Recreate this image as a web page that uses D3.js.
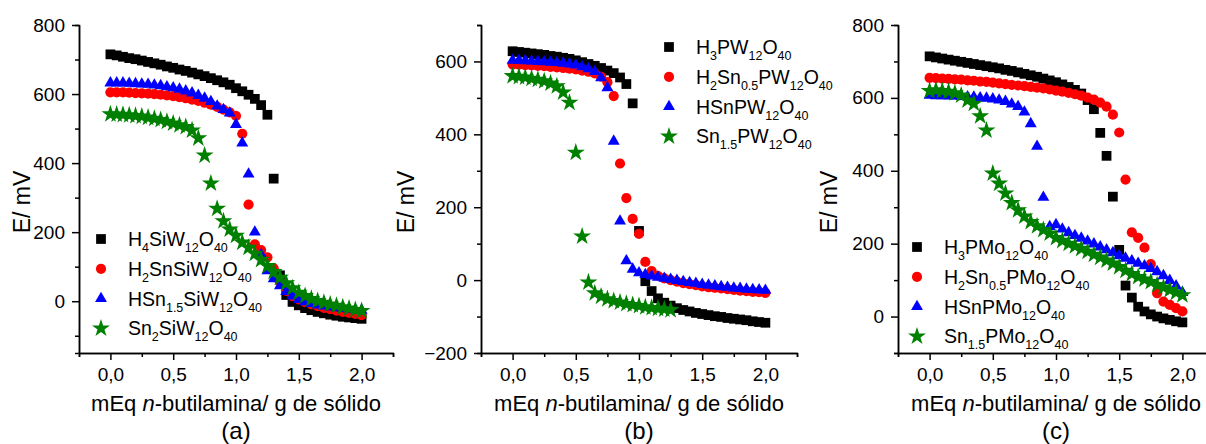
<html>
<head>
<script src="https://cdn.jsdelivr.net/npm/d3@7"></script>
<style>
  body { margin: 0; background: #fff; }
  text { font-family: "Liberation Sans", Arial, sans-serif; fill: #000; }
</style>
</head>
<body>
<svg width="1206" height="444"></svg>
<script>

// common x grid (mEq n-butilamina / g)
const xValues = [0, 0.05, 0.1, 0.15, 0.2, 0.25, 0.3, 0.35, 0.4, 0.45, 0.5, 0.55, 0.6, 0.65, 0.7, 0.75, 0.8, 0.85, 0.9, 0.95,
  1.0, 1.05, 1.1, 1.15, 1.2, 1.25, 1.3, 1.35, 1.4, 1.45, 1.5, 1.55, 1.6, 1.65, 1.7, 1.75, 1.8, 1.85, 1.9, 1.95, 2.0];

// (a) SiW12
const blackA = [715,712,708,704,701,697,693,689,685,680,676, 671,667,662,657,652,646,640,634,627, 617,608,598,586,568,540,355,75,18,-2,-12, -20,-26,-31,-35,-39,-42,-45,-47,-49,-51];
const redA   = [605,605,605,604,603,602,601,600,598,596,594, 591,588,584,580,575,569,563,555,547, 537,485,280,165,148,127,95,55,30,15,5, -3,-9,-14,-19,-23,-27,-31,-34,-37,-40];
const blueA  = [632,632,632,631,630,629,628,626,624,621,618, 614,609,603,596,588,578,565,555,545, 512,458,368,200,135,88,65,45,28,15,5, -2,-7,-11,-14,-17,-19,-21,-23,-25,-26];
const greenA = [542,541,540,539,537,535,532,529,525,520,515, 510,505,495,472,422,341,268,232,208, 190,170,155,138,120,102,85,68,52,38,25, 15,7,1,-4,-9,-13,-17,-21,-25,-28];

// (b) PW12
const blackB = [628,626,624,622,620,618,615,613,610,607,603, 598,593,588,582,575,568,556,538,485, 135,-3,-30,-50,-62,-70,-77,-82,-86,-90,-93, -96,-99,-101,-104,-106,-108,-110,-113,-115,-117];
const redB   = [592,591,590,589,588,587,585,584,582,580,578, 575,572,567,558,543,505,320,225,168, 127,50,25,12,5,0,-4,-8,-11,-14,-17, -19,-21,-23,-25,-27,-29,-30,-32,-33,-35];
const blueB  = [603,603,602,601,600,599,598,597,595,593,590, 585,580,572,555,528,381,162,53,30, 20,15,11,8,5,2,-1,-4,-7,-9,-12, -14,-16,-18,-20,-22,-23,-25,-26,-27,-28];
const greenB = [560,558,556,553,550,546,540,532,515,487,350, 120,-6,-36,-45,-52,-57,-61,-65,-68, -71,-74,-76,-78,-80,-82];

// (c) PMo12
const blackC = [714,711,708,705,702,699,696,693,690,687,684, 681,677,674,670,666,662,658,653,648, 643,637,630,622,612,594,569,504,441,329,183, 85,52,27,14,6,0,-5,-9,-13,-16];
const redC   = [655,654,653,652,651,650,648,647,645,644,642, 640,638,636,634,632,630,628,626,623, 620,617,614,610,606,601,595,587,576,554,505, 376,231,216,189,144,64,41,32,23,14];
const blueC  = [607,606,606,605,605,604,603,602,600,599,597, 594,590,583,576,561,529,467,327,247, 252,240,230,222,215,207,199,191,183,175,167, 160,153,146,139,132,123,112,99,84,66];
const greenC = [619,621,619,617,613,607,593,584,550,511,393, 365,338,312,292,275,260,248,238,228, 216,208,200,193,186,178,170,162,154,146,136, 126,117,109,102,95,87,80,73,66,59];

const labelsA = ['H_4SiW_12O_40', 'H_2SnSiW_12O_40', 'HSn_1.5SiW_12O_40', 'Sn_2SiW_12O_40'];
const labelsB = ['H_3PW_12O_40', 'H_2Sn_0.5PW_12O_40', 'HSnPW_12O_40', 'Sn_1.5PW_12O_40'];
const labelsC = ['H_3PMo_12O_40', 'H_2Sn_0.5PMo_12O_40', 'HSnPMo_12O_40', 'Sn_1.5PMo_12O_40'];

const xMajor = [0, 0.5, 1.0, 1.5, 2.0];
const xMinor = [-0.25, 0.25, 0.75, 1.25, 1.75, 2.25];
const yMajorA = [0, 200, 400, 600, 800];
const yMajorB = [-200, 0, 200, 400, 600];
const yMajorC = [0, 200, 400, 600, 800];
const yMinor = [-100, 100, 300, 500, 700];

const colors = ['#000000', '#ff0000', '#0000ff', '#008000'];
const symbols = [
  d3.symbol().type(d3.symbolSquare).size(95),
  d3.symbol().type(d3.symbolCircle).size(82),
  d3.symbol().type(d3.symbolTriangle).size(62),
  d3.symbol().type(d3.symbolStar).size(100)
];

const panels = [
  {left: 79, right: 393, yDomain: [-150, 800], yMajor: yMajorA, series: [blackA, redA, blueA, greenA],
   labels: labelsA, legX: 101, legY: 239, yTitleX: 30, tag: '(a)'},
  {left: 481, right: 797, yDomain: [-200, 700], yMajor: yMajorB, series: [blackB, redB, blueB, greenB],
   labels: labelsB, legX: 669, legY: 47, yTitleX: 414, tag: '(b)'},
  {left: 898, right: 1214, yDomain: [-100, 800], yMajor: yMajorC, series: [blackC, redC, blueC, greenC],
   labels: labelsC, legX: 917, legY: 247, yTitleX: 837, tag: '(c)'}
];

const plotTop = 25, plotBottom = 353;
const svg = d3.select('svg');
const fmt = d => d3.format('.1f')(d).replace('.', ',');

// text with "_" marking subscripts
function formula(g, label, x, y) {
  var t = g.append('text').attr('x', x).attr('y', y).style('font-size', '19.5px');
  var parts = label.split('_');
  t.append('tspan').text(parts[0]);
  parts.slice(1).forEach(function(p) {
    var m = p.match(/^([0-9.]+)(.*)$/);
    t.append('tspan').attr('dy', 6).style('font-size', '12.5px').text(m[1]);
    if (m[2]) t.append('tspan').attr('dy', -6).text(m[2]);
  });
}

panels.forEach(function(p) {
  var x = d3.scaleLinear().domain([-0.25, 2.25]).range([p.left, p.right]);
  var y = d3.scaleLinear().domain(p.yDomain).range([plotBottom, plotTop]);
  var g = svg.append('g');

  // minor ticks
  g.append('g').attr('transform', `translate(0,${plotBottom})`)
    .call(d3.axisBottom(x).tickValues(xMinor).tickSize(4).tickFormat(''));
  g.append('g').attr('transform', `translate(${p.left},0)`)
    .call(d3.axisLeft(y).tickValues(yMinor).tickSize(4).tickFormat(''));

  // major ticks
  g.append('g').attr('transform', `translate(0,${plotBottom})`)
    .call(d3.axisBottom(x).tickValues(xMajor).tickSize(7).tickSizeOuter(0).tickPadding(8).tickFormat(fmt));
  g.append('g').attr('transform', `translate(${p.left},0)`)
    .call(d3.axisLeft(y).tickValues(p.yMajor).tickSize(7).tickSizeOuter(0).tickPadding(7));

  g.selectAll('.tick text').style('font-size', '19px').style('font-family', '"Liberation Sans", Arial, sans-serif');
  g.selectAll('.domain, .tick line').attr('stroke', '#000').attr('stroke-width', 1.5);

  // points, black first so green sits on top
  p.series.forEach(function(vals, i) {
    g.append('g').selectAll('path')
      .data(vals)
      .join('path')
      .attr('transform', (d, j) => `translate(${x(xValues[j])},${y(d)})`)
      .attr('d', symbols[i])
      .attr('fill', colors[i]);
  });

  // legend
  p.labels.forEach(function(lab, i) {
    var ly = p.legY + i * 29.8;
    g.append('path').attr('transform', `translate(${p.legX},${ly})`)
      .attr('d', symbols[i]).attr('fill', colors[i]);
    formula(g, lab, p.legX + 27, ly + 7);
  });

  // axis titles
  g.append('text')
    .attr('transform', `translate(${p.yTitleX},202) rotate(-90)`)
    .attr('text-anchor', 'middle')
    .style('font-size', '23px')
    .text('E/ mV');

  var xt = g.append('text')
    .attr('x', x(1.0)).attr('y', 411)
    .attr('text-anchor', 'middle')
    .style('font-size', '22px');
  xt.append('tspan').text('mEq ');
  xt.append('tspan').style('font-style', 'italic').text('n');
  xt.append('tspan').text('-butilamina/ g de sólido');

  g.append('text')
    .attr('x', x(1.0)).attr('y', 439)
    .attr('text-anchor', 'middle')
    .style('font-size', '24px')
    .text(p.tag);
});

</script>
</body>
</html>
